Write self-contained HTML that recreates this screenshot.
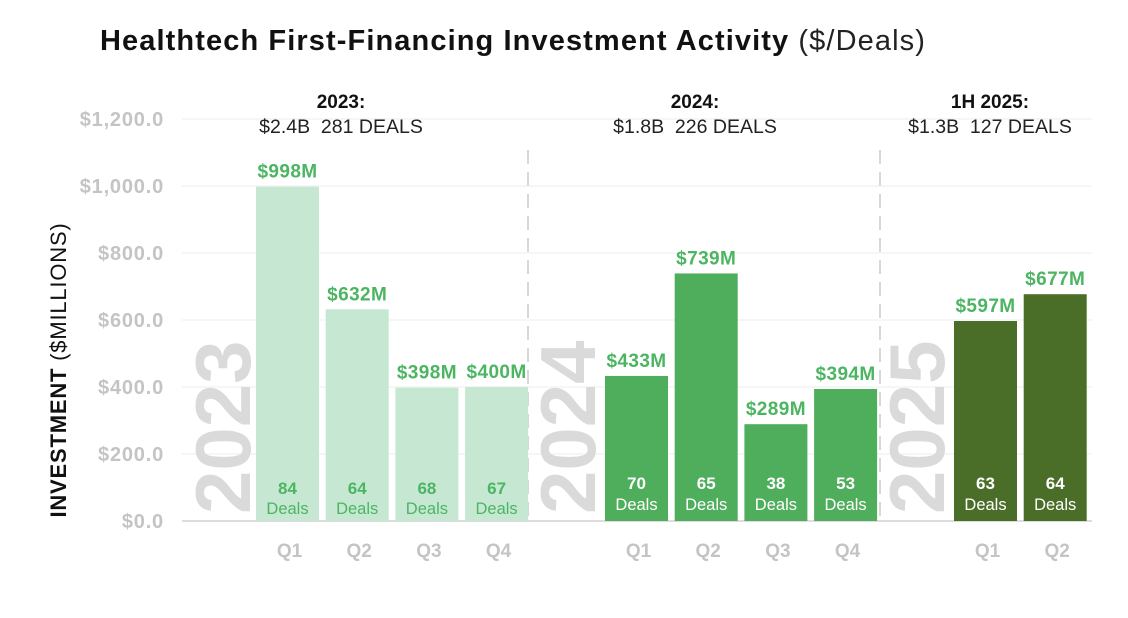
<!DOCTYPE html>
<html><head><meta charset="utf-8"><style>
body{margin:0;background:#fff;}
svg{display:block;font-family:"Liberation Sans",sans-serif;}
</style></head><body>
<svg id="chart" width="1128" height="618" viewBox="0 0 1128 618">
<text x="100" y="50" font-size="29" letter-spacing="1.1" font-weight="bold" fill="#111">Healthtech First-Financing Investment Activity <tspan font-weight="normal" fill="#222">($/Deals)</tspan></text>
<text transform="translate(66,370) rotate(-90)" text-anchor="middle" font-size="22" letter-spacing="0.8" fill="#111"><tspan font-weight="bold">INVESTMENT</tspan> ($MILLIONS)</text>
<g id="grid"></g><g id="bars"></g>
</svg>
<script>
const categories=["Q1","Q2","Q3","Q4","Q1","Q2","Q3","Q4","Q1","Q2"];
const groups=[0,0,0,0,1,1,1,1,2,2];
const values=[998,632,398,400,433,739,289,394,597,677];
const deals=[84,64,68,67,70,65,38,53,63,64];
const yTicks=[0,200,400,600,800,1000,1200];
const yTickLabels=["$0.0","$200.0","$400.0","$600.0","$800.0","$1,000.0","$1,200.0"];
const groupYears=["2023","2024","2025"];
const groupHeads=["2023:","2024:","1H 2025:"];
const groupTotals=["$2.4B  281 DEALS","$1.8B  226 DEALS","$1.3B  127 DEALS"];

const svg=document.getElementById('chart'),G=document.getElementById('grid'),B=document.getElementById('bars');
const NS="http://www.w3.org/2000/svg";
function mk(tag,attrs,parent,txt){const e=document.createElementNS(NS,tag);for(const k in attrs)e.setAttribute(k,attrs[k]);if(txt!==undefined)e.textContent=txt;parent.appendChild(e);return e;}
const y0=521,yScale=v=>y0-v*(335/1000);
const groupStart=[256,605,954],pitch=69.7,bw=63;
const xPos=i=>{let g=groups[i],k=0;for(let j=0;j<i;j++)if(groups[j]===g)k++;return groupStart[g]+k*pitch;};
const fills=["#c6e8d3","#4fae5c","#4a6e28"];
const headX=[341,695,990];
yTicks.forEach((t,i)=>{
  const l=mk('line',{x1:182,x2:1092,y1:yScale(t),y2:yScale(t),stroke:i===0?'#ddd':'#eee','stroke-width':i===0?2:1},G);
  
  const tx=mk('text',{x:164,y:yScale(t)+7,'text-anchor':'end','font-size':20,'letter-spacing':0.8,'font-weight':'bold',fill:'#c4c4c4'},G,yTickLabels[i]);
  
});
[528,880].forEach(x=>{const d=mk('line',{x1:x,x2:x,y1:150,y2:521,stroke:'#d8d8d8','stroke-width':2,'stroke-dasharray':'14,8'},G);
});
const wmX=[250,595,944];
groupYears.forEach((yr,g)=>{
  const w=mk('text',{transform:`translate(${wmX[g]},514) rotate(-90)`,'font-size':78,'font-weight':'bold',fill:'#dadada'},G,yr);
  
  const cx=headX[g];
  const h=mk('text',{x:cx,y:108,'text-anchor':'middle','font-size':19,'font-weight':'bold',fill:'#111'},G,groupHeads[g]);
  
  const s=mk('text',{x:cx,y:133,'text-anchor':'middle','font-size':19.5,fill:'#222'},G,groupTotals[g]);
  s.style.whiteSpace='pre';
  
});
values.forEach((v,i)=>{
  const x=xPos(i),g=groups[i],y=yScale(v);
  const r=mk('rect',{x:x,y:y,width:bw,height:y0-y,fill:fills[g]},B);
  
  const lb=mk('text',{x:x+bw/2,y:y-9,'text-anchor':'middle','font-size':19,'letter-spacing':0.4,'font-weight':'bold',fill:'#4cb562'},B,'$'+v+'M');
  
  const dc=g===0?'#4cb562':'#fff';
  const d1=mk('text',{x:x+bw/2,y:g===0?494:489,'text-anchor':'middle','font-size':17,'font-weight':'bold',fill:dc},B,deals[i]);
  
  const d2=mk('text',{x:x+bw/2,y:g===0?514:510,'text-anchor':'middle','font-size':16.5,fill:dc},B,'Deals');
  
  const q=mk('text',{x:x+bw/2+2,y:557,'text-anchor':'middle','font-size':19,'font-weight':'bold',fill:'#c4c4c4'},B,categories[i]);
  
});
</script>
</body></html>
